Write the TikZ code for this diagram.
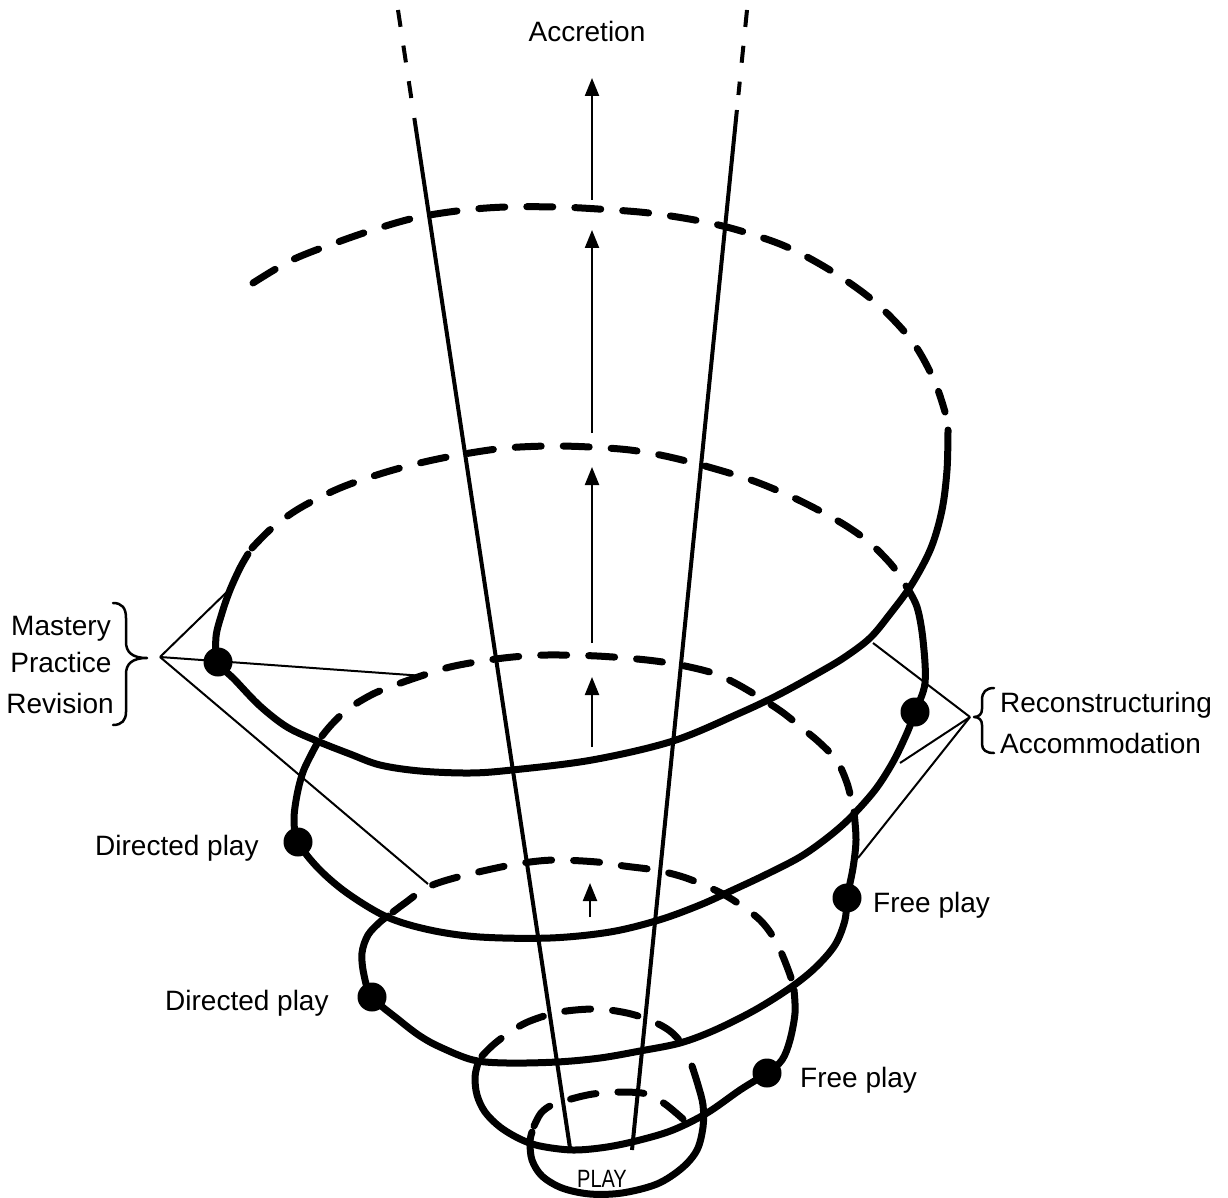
\documentclass[tikz,border=0pt]{standalone}
\usepackage{fontspec}
\setmainfont{Liberation Sans}
\usetikzlibrary{arrows.meta}
\begin{document}
\begin{tikzpicture}[x=1pt,y=-1pt,
  sp/.style={line width=7pt, line cap=round, line join=round},
  spd/.style={sp, dash pattern=on 26pt off 22pt},
  cone/.style={line width=4pt},
  conedash/.style={line width=4pt, dash pattern=on 17pt off 19pt},
  thinline/.style={line width=2pt},
  accarrow/.style={line width=2.2pt, -{Triangle[length=18pt,width=14pt]}},
  dotnode/.style={circle, fill=black, inner sep=0pt, minimum size=29pt},
  lbl/.style={font=\fontsize{28}{34}\selectfont, inner sep=0pt},
  bracestyle/.style={line width=2.5pt, line cap=round, line join=round}]
\useasboundingbox (0,0) rectangle (1228,1198);

% ---------- spiral ----------
\draw[spd] plot[smooth, tension=0.55] coordinates {(253,283) (292,260) (338,242) (379,228) (419,217) (465,210) (506,207) (557,207) (598,209) (649,213) (700,221) (741,231) (787,247) (833,272) (876,303) (912,341) (934,380) (945,412)};
\draw[sp] plot[smooth, tension=0.55] coordinates {(948,430) (947,470) (942,510) (931,548) (912,584) (890,614) (870,638) (845,657) (820,672) (780,694) (740,713) (673,741) (592,760) (512,770) (470,773) (420,771) (380,765) (350,754) (317,741) (287,727) (260,706) (235,680) (218,662) (216,637) (222,613) (230,590) (240,568) (248,554)};
\draw[spd] plot[smooth, tension=0.55] coordinates {(252,548) (272,528) (300,508) (340,488) (383,473) (424,462) (464,454) (506,448) (550,446) (590,447) (630,450) (665,456) (705,466) (751,480) (790,496) (822,512) (848,527) (870,543) (890,563) (903,580)};
\draw[sp] plot[smooth, tension=0.55] coordinates {(906,586) (917,607) (923,640) (925,683) (915,712) (907,733) (893,762) (875,790) (850,818) (827,838) (800,857) (765,875) (733,890) (700,905) (659,920) (610,932) (550,938) (480,937) (430,930) (387,917) (347,893) (318,868) (298,842) (294,820) (297,795) (303,772) (312,753) (318,742)};
\draw[spd] plot[smooth, tension=0.55] coordinates {(322,736) (332,724) (348,709) (373,694) (398,684) (424,675) (450,667) (482,661) (513,657) (547,655) (597,656) (647,660) (680,665) (713,673) (735,683) (759,697) (782,712) (802,728) (820,743) (837,761) (847,783) (852,803)};
\draw[sp] plot[smooth, tension=0.55] coordinates {(854,812) (856,840) (853,868) (847,898) (845,920) (835,945) (815,968) (790,988) (755,1010) (715,1030) (680,1043) (640,1051) (600,1058) (557,1062) (507,1063) (473,1060) (440,1047) (420,1036) (399,1020) (372,997) (364,975) (362,953) (368,935) (380,922) (388,916)};
\draw[spd] plot[smooth, tension=0.55] coordinates {(393,912) (405,903) (428,887) (458,877) (501,867) (530,862) (557,860) (597,862) (624,866) (655,870) (680,876) (699,883) (723,894) (742,906) (760,920) (772,935) (781,952) (789,972) (793,984)};
\draw[sp] plot[smooth, tension=0.55] coordinates {(794,990) (795,1013) (790,1040) (782,1060) (767,1073) (740,1090) (707,1113) (673,1130) (640,1140) (607,1147) (573,1150) (540,1146) (520,1139) (500,1127) (485,1112) (477,1095) (475,1077) (478,1063)};
\draw[spd] plot[smooth, tension=0.55] coordinates {(482,1056) (493,1045) (510,1032) (530,1021) (560,1012) (596,1009) (627,1013) (652,1021) (670,1031) (682,1044) (689,1058)};
\draw[sp] plot[smooth, tension=0.55] coordinates {(692,1066) (698,1085) (703,1105) (703,1127) (697,1150) (682,1168) (657,1184) (622,1193) (590,1194) (562,1188) (542,1176) (532,1160) (530,1142) (532,1132)};
\draw[spd] plot[smooth, tension=0.55] coordinates {(534,1126) (541,1113) (552,1105) (571,1099) (593,1094) (620,1092) (647,1094) (665,1104) (683,1119)};

% ---------- cone lines ----------
\coordinate (LT) at (398,10);
\coordinate (LD) at (412.2,104);
\coordinate (LS) at (414.3,118);
\coordinate (LB) at (570,1148);
\coordinate (RT) at (747,10);
\coordinate (RD) at (738.4,95);
\coordinate (RS) at (736.9,110);
\coordinate (RB) at (632,1150);
\draw[conedash] (LT) -- (LD);
\draw[cone] (LS) -- (LB);
\draw[conedash] (RT) -- (RD);
\draw[cone] (RS) -- (RB);

% ---------- accretion arrows ----------
\coordinate (a1t) at (592,78);  \coordinate (a1b) at (592,200);
\coordinate (a2t) at (592,230); \coordinate (a2b) at (592,433);
\coordinate (a3t) at (592,467); \coordinate (a3b) at (592,643);
\coordinate (a4t) at (592,677); \coordinate (a4b) at (592,747);
\coordinate (a5t) at (590,883); \coordinate (a5b) at (590,917);
\draw[accarrow] (a1b) -- (a1t);
\draw[accarrow] (a2b) -- (a2t);
\draw[accarrow] (a3b) -- (a3t);
\draw[accarrow] (a4b) -- (a4t);
\draw[accarrow] (a5b) -- (a5t);

% ---------- dots ----------
\node[dotnode] (dM) at (218,662) {};
\node[dotnode] (dR) at (915,712) {};
\node[dotnode] (dD1) at (298,842) {};
\node[dotnode] (dF1) at (847,898) {};
\node[dotnode] (dD2) at (372,997) {};
\node[dotnode] (dF2) at (767,1073) {};

% ---------- bracket lines ----------
\coordinate (mt) at (160,657);
\coordinate (m1) at (232,587);
\coordinate (m2) at (424,676);
\coordinate (m3) at (428,884);
\draw[thinline] (mt) -- (m1);
\draw[thinline] (mt) -- (m2);
\draw[thinline] (mt) -- (m3);
\coordinate (rt) at (970,717);
\coordinate (r1) at (873,643);
\coordinate (r2) at (900,763);
\coordinate (r3) at (858,858);
\draw[thinline] (rt) -- (r1);
\draw[thinline] (rt) -- (r2);
\draw[thinline] (rt) -- (r3);

% ---------- braces ----------
\draw[bracestyle] (113,603) .. controls (122,603) and (126,608) .. (126,618) -- (126,642) .. controls (126,652) and (132,658) .. (147,658) .. controls (132,658) and (126,664) .. (126,674) -- (126,712) .. controls (126,720) and (122,725) .. (113,725);
\draw[bracestyle] (994,688) .. controls (986,688) and (982,692) .. (982,700) -- (982,709) .. controls (982,714) and (979,717) .. (974,717) .. controls (979,717) and (982,720) .. (982,725) -- (982,744) .. controls (982,750) and (986,753) .. (994,753);

% ---------- labels ----------
\node[lbl, anchor=base] (tacc) at (587,42) {Accretion};
\node[lbl, anchor=base] (tmas) at (61,635) {Mastery};
\node[lbl, anchor=base] (tpra) at (61,672) {Practice};
\node[lbl, anchor=base] (trev) at (60,713) {Revision};
\node[lbl, anchor=base west] (trec) at (1000,712) {Reconstructuring};
\node[lbl, anchor=base west] (tacm) at (1000,753) {Accommodation};
\node[lbl, anchor=base west] (tdp1) at (95,855) {Directed play};
\node[lbl, anchor=base west] (tfp1) at (873,912) {Free play};
\node[lbl, anchor=base west] (tdp2) at (165,1010) {Directed play};
\node[lbl, anchor=base west] (tfp2) at (800,1087) {Free play};
\node[lbl, anchor=base] (tplay) at (602,1187) {\scalebox{0.8}[1]{\fontsize{25}{30}\selectfont PLAY}};
\end{tikzpicture}
\end{document}
